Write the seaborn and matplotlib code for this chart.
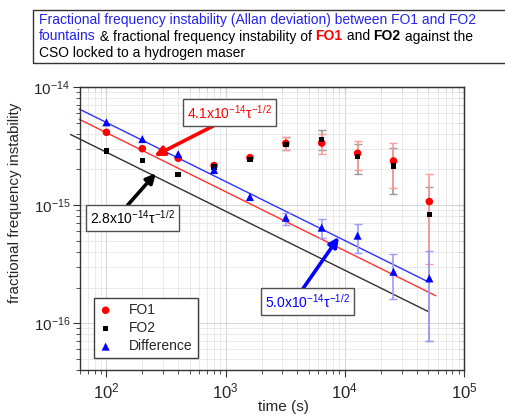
import numpy as np
import pandas as pd
import matplotlib
matplotlib.use('Agg')
import matplotlib.pyplot as plt
import seaborn as sns
from matplotlib.transforms import IdentityTransform
from matplotlib.patches import Rectangle

nan = np.nan
tau = [100, 200, 400, 800, 1600, 3200, 6400, 12800, 25600, 51200]

fo1 = [4.13e-15, 3.0e-15, 2.49e-15, 2.16e-15, 2.52e-15, 3.33e-15, 3.35e-15, 2.74e-15, 2.36e-15, 1.07e-15]
fo1_lo = [nan, nan, nan, nan, nan, 2.9e-15, 2.69e-15, 1.98e-15, 1.39e-15, 3.14e-16]
fo1_hi = [nan, nan, nan, nan, nan, 3.8e-15, 4.0e-15, 3.5e-15, 3.33e-15, 1.82e-15]

fo2 = [2.88e-15, 2.38e-15, 1.82e-15, 2.1e-15, 2.44e-15, 3.25e-15, 3.6e-15, 2.57e-15, 2.14e-15, 8.3e-16]
fo2_lo = [nan, nan, nan, nan, nan, 2.95e-15, 2.93e-15, 1.83e-15, 1.24e-15, 7.0e-17]
fo2_hi = [nan, nan, nan, nan, nan, 3.75e-15, 4.3e-15, 3.29e-15, 3.02e-15, 1.42e-15]

diff = [5.02e-15, 3.62e-15, 2.7e-15, 1.98e-15, 1.17e-15, 7.8e-16, 6.43e-16, 5.5e-16, 2.72e-16, 2.39e-16]
diff_lo = [nan, nan, nan, nan, nan, 6.8e-16, 5.23e-16, 3.9e-16, 1.6e-16, 7.0e-17]
diff_hi = [nan, nan, nan, nan, nan, 8.6e-16, 7.57e-16, 6.9e-16, 3.85e-16, 4.07e-16]

# tau^-1/2 fits: coefficient and tau span of each drawn line
fit_coef = {'FO1': 4.1e-14, 'FO2': 2.8e-14, 'Difference': 5.0e-14}
fit_span = {'FO1': [59, 58000], 'FO2': [50, 50000], 'Difference': [59, 50000]}
fit_labels = {'FO1': '4.1x10$^{-14}$τ$^{-1/2}$',
              'FO2': '2.8x10$^{-14}$τ$^{-1/2}$',
              'Difference': '5.0x10$^{-14}$τ$^{-1/2}$'}

series = ['FO1', 'FO2', 'Difference']
colors = {'FO1': '#ff0000', 'FO2': '#000000', 'Difference': '#0000ff'}
line_colors = {'FO1': '#ff3030', 'FO2': '#303030', 'Difference': '#3030ff'}
err_colors = {'FO1': '#ff9a9a', 'FO2': '#9a9a9a', 'Difference': '#9a9aff'}
markers = {'FO1': 'o', 'FO2': 's', 'Difference': '^'}
msize = {'FO1': 30, 'FO2': 16, 'Difference': 34}

df = pd.concat([
    pd.DataFrame({'tau': tau, 'val': fo1, 'lo': fo1_lo, 'hi': fo1_hi, 'series': 'FO1'}),
    pd.DataFrame({'tau': tau, 'val': fo2, 'lo': fo2_lo, 'hi': fo2_hi, 'series': 'FO2'}),
    pd.DataFrame({'tau': tau, 'val': diff, 'lo': diff_lo, 'hi': diff_hi, 'series': 'Difference'}),
])

sns.set_style('ticks')
plt.rcParams['font.family'] = ['Liberation Sans', 'DejaVu Sans']
plt.rcParams['mathtext.fontset'] = 'custom'
plt.rcParams['mathtext.rm'] = 'Liberation Sans'
plt.rcParams['mathtext.it'] = 'Liberation Sans:italic'
plt.rcParams['mathtext.default'] = 'regular'

fig = plt.figure(figsize=(5.05, 4.16), dpi=100)
ax = fig.add_axes([80 / 505, 1 - 370 / 416, 384 / 505, 283 / 416])
ax.set_xscale('log')
ax.set_yscale('log')
ax.set_xlim(60, 1e5)
ax.set_ylim(4.0e-17, 1e-14)

ax.grid(True, which='major', color='#d4d4d4', lw=0.7)
ax.grid(True, which='minor', color='#e6e6e6', lw=0.6)
ax.set_axisbelow(True)

# fit lines
for s in series:
    t = np.array(fit_span[s], dtype=float)
    sns.lineplot(x=t, y=fit_coef[s] / np.sqrt(t), color=line_colors[s], lw=1.0,
                 ax=ax, clip_on=False, zorder=2)

# error bars
for s in ['FO2', 'FO1', 'Difference']:
    d = df[df['series'] == s]
    yerr = np.vstack([d['val'] - d['lo'], d['hi'] - d['val']])
    ax.errorbar(d['tau'], d['val'], yerr=yerr, fmt='none', ecolor=err_colors[s],
                elinewidth=1.2, capsize=3, capthick=1, zorder=3)

for s in series:
    sns.scatterplot(data=df[df['series'] == s], x='tau', y='val', color=colors[s],
                    marker=markers[s], s=msize[s], edgecolor='none', ax=ax, zorder=4,
                    label=s)

leg = ax.legend(loc='lower left', bbox_to_anchor=(0.036, 0.042), borderaxespad=0,
                fontsize=10, frameon=True, fancybox=False, edgecolor='#404040',
                handlelength=1.0, handletextpad=1.2, borderpad=0.35, labelspacing=0.3)
leg.get_frame().set_linewidth(1.0)
leg.get_frame().set_alpha(1)

# annotations: arrow (tail, tip) and text box center
ann = {
    'FO1': ((883, 4.96e-15), (252, 2.6e-15), (1080, 6.08e-15)),
    'FO2': ((151, 1.0e-15), (260, 1.86e-15), (165, 7.76e-16)),
    'Difference': ((4365, 1.9e-16), (8920, 5.36e-16), (4850, 1.52e-16)),
}
for s in series:
    tail, tip, ctr = ann[s]
    ax.annotate('', xy=tip, xytext=tail,
                arrowprops=dict(arrowstyle='-|>', color=colors[s], lw=2.6,
                                mutation_scale=14, shrinkA=0, shrinkB=0), zorder=6)
    ax.text(ctr[0], ctr[1], fit_labels[s], color=colors[s], fontsize=10,
            ha='center', va='center', zorder=7,
            bbox=dict(boxstyle='square,pad=0.3', fc='white', ec='#505050', lw=1.0))

# axes labels
ax.set_xlabel('time (s)', fontsize=11)
ax.set_ylabel('fractional frequency instability', fontsize=11)
ax.xaxis.set_label_coords(0.53, -0.105)
ax.yaxis.set_label_coords(-0.15, 0.59)

for sp in ax.spines.values():
    sp.set_color('#333333')
    sp.set_linewidth(1.0)
ax.tick_params(axis='x', which='major', labelsize=12, length=5, direction='out', color='#333333')
ax.tick_params(axis='y', which='major', labelsize=11, length=5, pad=2, direction='out', color='#333333')
ax.tick_params(which='minor', length=3, direction='out', color='#333333')

top = ax.secondary_xaxis('top')
top.tick_params(which='major', length=5, direction='in', labeltop=False, color='#333333')
top.tick_params(which='minor', length=3, direction='in', color='#333333')
right = ax.secondary_yaxis('right')
right.tick_params(which='major', length=5, direction='in', labelright=False, color='#333333')
right.tick_params(which='minor', length=3, direction='in', color='#333333')

# header box with mixed-colour text
fig.patches.append(Rectangle((33 / 505, 1 - 63 / 416), 1.0, 53 / 416,
                             transform=fig.transFigure, fill=False, ec='#333333', lw=1.0))
blue = '#2222ee'
header = [
    [('Fractional frequency instability (Allan deviation) between FO1 and FO2', blue, 'normal')],
    [('fountains', blue, 'normal'), (' & fractional frequency instability of ', 'black', 'normal'),
     ('FO1', 'red', 'bold'), (' and ', 'black', 'normal'), ('FO2', 'black', 'bold'),
     (' against the', 'black', 'normal')],
    [('CSO locked to a hydrogen maser', 'black', 'normal')],
]
fig.canvas.draw()
rend = fig.canvas.get_renderer()
H = 416


def width_of(txt, weight):
    a = fig.text(0, 0, '|' + txt + '|', fontsize=10, fontweight=weight, transform=IdentityTransform())
    b = fig.text(0, 0, '||', fontsize=10, fontweight=weight, transform=IdentityTransform())
    w = a.get_window_extent(rend).width - b.get_window_extent(rend).width
    a.remove()
    b.remove()
    return w


for i, line in enumerate(header):
    x = 39
    y = H - (20 + 16.5 * i)
    for txt, col, wt in line:
        fig.text(x, y, txt, fontsize=10, color=col, fontweight=wt, va='center',
                 transform=IdentityTransform())
        x += width_of(txt, wt)

fig.savefig('out.png', dpi=100)
